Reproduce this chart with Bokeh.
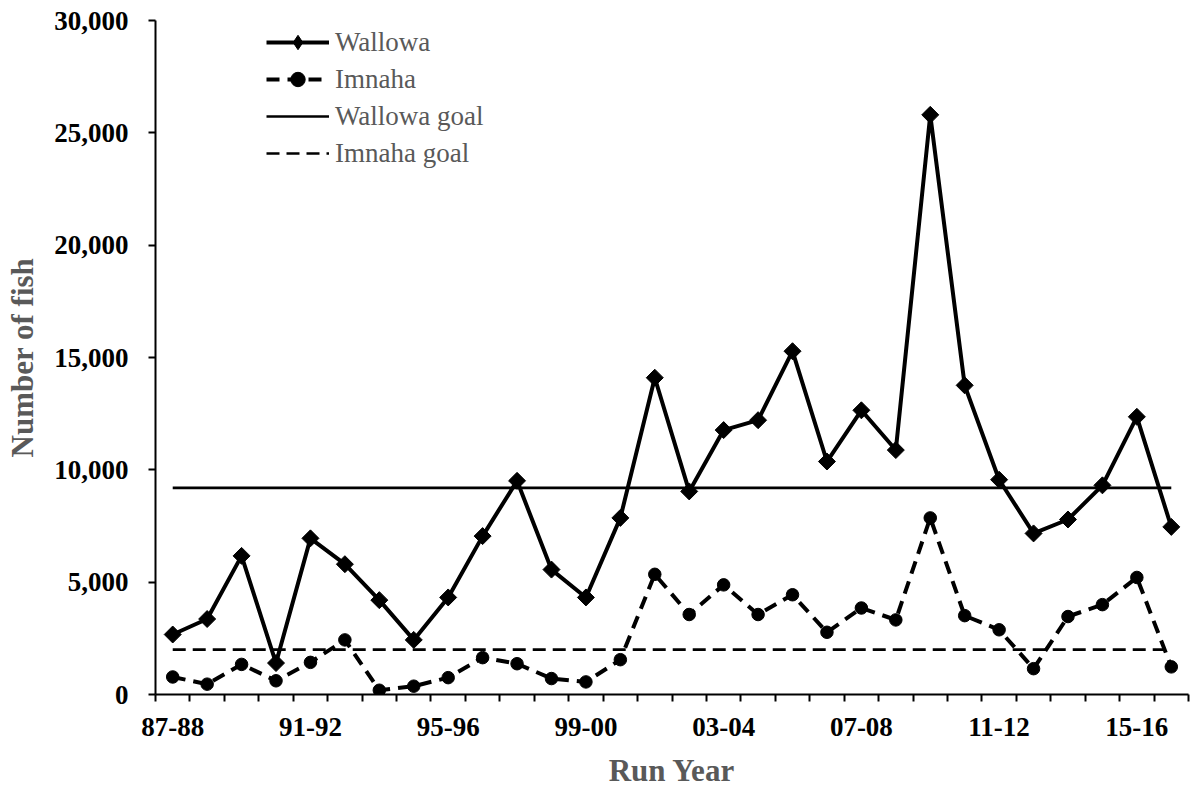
import math
from bokeh.plotting import figure
from bokeh.models import (Range1d, FixedTicker, NumeralTickFormatter, Legend, LegendItem,
                          CustomJSTickFormatter, ColumnDataSource)
from bokeh.embed import file_html
from bokeh.resources import INLINE

categories = ["87-88", "88-89", "89-90", "90-91", "91-92", "92-93", "93-94", "94-95",
              "95-96", "96-97", "97-98", "98-99", "99-00", "00-01", "01-02", "02-03",
              "03-04", "04-05", "05-06", "06-07", "07-08", "08-09", "09-10", "10-11",
              "11-12", "12-13", "13-14", "14-15", "15-16", "16-17"]

wallowa = [2670, 3360, 6170, 1400, 6950, 5800, 4200, 2430, 4320, 7050, 9510, 5560, 4320,
           7860, 14100, 9040, 11770, 12210, 15280, 10370, 12650, 10880, 25800, 13760,
           9560, 7170, 7790, 9310, 12360, 7460]

imnaha = [780, 460, 1340, 610, 1430, 2430, 190, 370, 750, 1640, 1370, 710, 560, 1550,
          5350, 3560, 4880, 3560, 4440, 2770, 3850, 3320, 7860, 3510, 2880, 1150, 3470,
          4000, 5210, 1230]

wallowa_goal = 9200
imnaha_goal = 2000

y_ticks = [0, 5000, 10000, 15000, 20000, 25000, 30000]
label_every = 4

FONT = "Liberation Serif"
GRAY = "#595959"

n = len(categories)
idx = list(range(n))
src = ColumnDataSource(dict(x=idx, cat=categories, wallowa=wallowa, imnaha=imnaha,
                            wgoal=[wallowa_goal] * n, igoal=[imnaha_goal] * n))

p = figure(width=1190, height=790, output_backend="svg", toolbar_location=None,
           x_range=Range1d(-0.5, n - 0.5), y_range=Range1d(0, 30000),
           min_border_left=155, min_border_right=2, min_border_top=20, min_border_bottom=92)
p.outline_line_color = None
p.grid.visible = False
p.background_fill_color = "white"

# goal lines
wg = p.line("x", "wgoal", source=src, line_color="black", line_width=2.7)
ig = p.line("x", "igoal", source=src, line_color="black", line_width=2.7, line_dash="13 7")

# series
wl = p.line("x", "wallowa", source=src, line_color="black", line_width=4)
wm = p.scatter("x", "wallowa", source=src, marker="square", angle=math.pi / 4, size=12,
               fill_color="black", line_color="black")
il = p.line("x", "imnaha", source=src, line_color="black", line_width=4, line_dash="13 8")
im = p.scatter("x", "imnaha", source=src, marker="circle", size=12.5,
               fill_color="black", line_color="black")
# diamond used only for the legend key (the plotted diamonds are the rotated squares above)
wm_key = p.scatter("x", "wallowa", source=src, marker="diamond", size=12,
                   fill_color="black", line_color="black", visible=False)

# y axis
ya = p.yaxis[0]
ya.ticker = FixedTicker(ticks=y_ticks)
ya.formatter = NumeralTickFormatter(format="0,0")
ya.axis_line_width = 2
ya.major_tick_line_width = 2
ya.major_tick_out = 7
ya.major_tick_in = 0
ya.minor_tick_out = 0
ya.minor_tick_in = 0
ya.major_label_text_font = FONT
ya.major_label_text_font_style = "bold"
ya.major_label_text_font_size = "27px"
ya.major_label_text_color = "black"
ya.major_label_standoff = 20
ya.axis_label = "Number of fish"
ya.axis_label_text_font = FONT
ya.axis_label_text_font_style = "bold"
ya.axis_label_text_font_size = "31px"
ya.axis_label_text_color = GRAY
ya.axis_label_standoff = 11

# x axis
xa = p.xaxis[0]
xa.ticker = FixedTicker(ticks=list(range(0, n, label_every)),
                        minor_ticks=[i - 0.5 for i in range(n + 1)])
xa.formatter = CustomJSTickFormatter(args=dict(cats=categories),
                                     code="const c = cats[Math.round(tick)]; return c === undefined ? '' : c;")
xa.axis_line_width = 2
xa.major_tick_out = 0
xa.major_tick_in = 0
xa.minor_tick_out = 7
xa.minor_tick_in = 0
xa.minor_tick_line_width = 2
xa.minor_tick_line_color = "black"
xa.major_label_text_font = FONT
xa.major_label_text_font_style = "bold"
xa.major_label_text_font_size = "27px"
xa.major_label_text_color = "black"
xa.major_label_standoff = 16
xa.axis_label = "Run Year"
xa.axis_label_text_font = FONT
xa.axis_label_text_font_style = "bold"
xa.axis_label_text_font_size = "31px"
xa.axis_label_text_color = GRAY
xa.axis_label_standoff = 14

legend = Legend(items=[
    LegendItem(label="Wallowa", renderers=[wl, wm_key]),
    LegendItem(label="Imnaha", renderers=[il, im]),
    LegendItem(label="Wallowa goal", renderers=[wg]),
    LegendItem(label="Imnaha goal", renderers=[ig]),
], location=(111, 523))
legend.border_line_color = None
legend.background_fill_alpha = 0
legend.label_text_font = FONT
legend.label_text_font_size = "27px"
legend.label_text_color = GRAY
legend.glyph_width = 63
legend.glyph_height = 36
legend.label_height = 30
legend.label_standoff = 6
legend.spacing = 1
legend.padding = 0
legend.margin = 0
p.add_layout(legend)

open("out.html", "w").write(file_html(p, INLINE))
